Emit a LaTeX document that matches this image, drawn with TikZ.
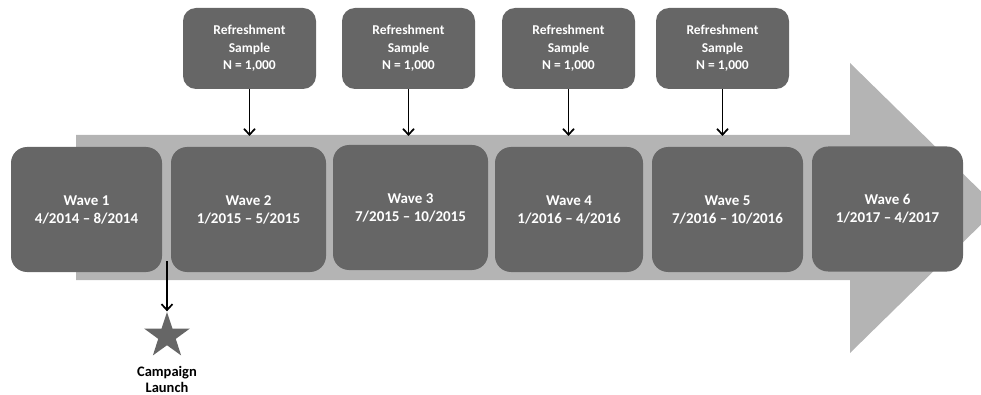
\documentclass[tikz,border=0pt]{standalone}
\usepackage{fontspec}
\setmainfont{Carlito}
\usetikzlibrary{arrows.meta,shapes.geometric}
\definecolor{boxgrey}{RGB}{102,102,102}
\definecolor{bodygrey}{RGB}{180,180,180}
\tikzset{
  wavebox/.style={draw=none, fill=boxgrey, rounded corners=16pt, inner sep=0pt,
    minimum height=125pt, text=white, align=center,
    font=\bfseries\fontsize{15}{18}\selectfont},
  refbox/.style={draw=none, fill=boxgrey, rounded corners=13pt, inner sep=0pt,
    minimum width=133pt, minimum height=81pt, text=white, align=center,
    font=\bfseries\fontsize{13.5}{17.5}\selectfont},
  conn/.style={draw=black, line width=1.7pt, -{Straight Barb[length=6pt,width=11pt,line width=1.7pt]}},
}
\begin{document}
\begin{tikzpicture}[x=1pt,y=-1pt]
\useasboundingbox (0,0) rectangle (981,395);
\begin{scope}
\clip (0,0) rectangle (981,395);
% big arrow
\fill[bodygrey] (76,135) -- (850,135) -- (850,63) -- (998,208) -- (850,353) -- (850,280) -- (76,280) -- cycle;
\end{scope}
% wave boxes
\node[wavebox, minimum width=151pt] (w1) at (86.5,209.5) {Wave 1\\4/2014 – 8/2014};
\node[wavebox, minimum width=155pt] (w2) at (248.5,209.5) {Wave 2\\1/2015 – 5/2015};
\node[wavebox, minimum width=155pt] (w3) at (410.5,207.5) {Wave 3\\7/2015 – 10/2015};
\node[wavebox, minimum width=148pt] (w4) at (569,209.5) {Wave 4\\1/2016 – 4/2016};
\node[wavebox, minimum width=151pt] (w5) at (727.5,209.5) {Wave 5\\7/2016 – 10/2016};
\node[wavebox, minimum width=151pt] (w6) at (887.5,209) {Wave 6\\1/2017 – 4/2017};
% refreshment boxes
\node[refbox] (r1) at (249.5,48.5) {Refreshment\\Sample\\N = 1,000};
\node[refbox] (r2) at (408.5,48.5) {Refreshment\\Sample\\N = 1,000};
\node[refbox] (r3) at (568.5,48.5) {Refreshment\\Sample\\N = 1,000};
\node[refbox] (r4) at (722.5,48.5) {Refreshment\\Sample\\N = 1,000};
\coordinate (e1) at (249.5,136);
\coordinate (e2) at (408.5,136);
\coordinate (e3) at (568.5,136);
\coordinate (e4) at (722.5,136);
\draw[conn] (r1.south) -- (e1);
\draw[conn] (r2.south) -- (e2);
\draw[conn] (r3.south) -- (e3);
\draw[conn] (r4.south) -- (e4);
% campaign launch
\coordinate (cl) at (167,261);
\node[star, star points=5, star point ratio=2.6, fill=boxgrey, draw=none, inner sep=0pt, minimum size=48pt] (star) at (167,336) {};
\draw[conn] (cl) -- (star.north);
\node[align=center, font=\bfseries\fontsize{14.5}{15.5}\selectfont, text=black] (lab) at (167,379.5) {Campaign\\Launch};
\end{tikzpicture}
\end{document}
